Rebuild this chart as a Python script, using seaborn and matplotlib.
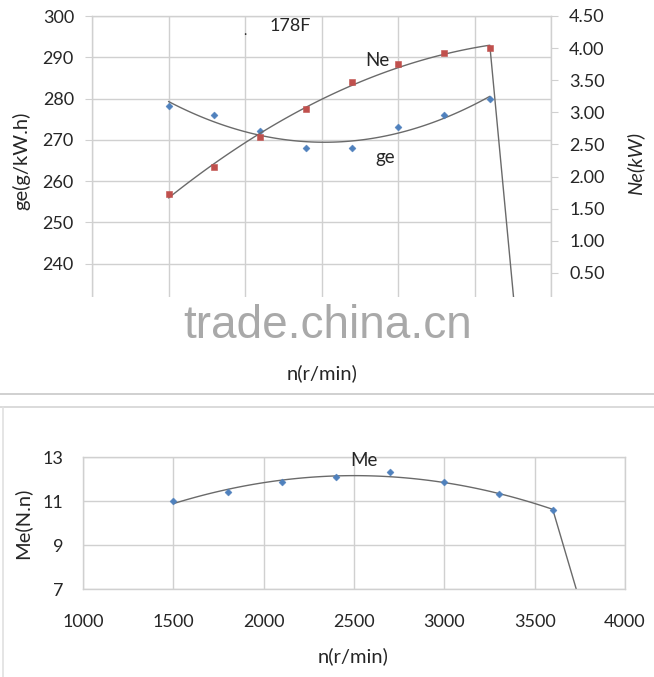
import numpy as np
import matplotlib
matplotlib.use('Agg')
import matplotlib.pyplot as plt
import seaborn as sns
from matplotlib.patches import Rectangle
from matplotlib.lines import Line2D

sns.set_style('white')
plt.rcParams['font.family'] = ['Lato', 'DejaVu Sans']

# engine speed points (r/min)
speed = [1500, 1800, 2100, 2400, 2700, 3000, 3300, 3600]
ge_vals = [278.2, 276.0, 272.2, 268.0, 268.0, 273.0, 276.0, 280.0]
ne_vals = [1.73, 2.15, 2.62, 3.05, 3.47, 3.75, 3.92, 4.00]
me_vals = [11.0, 11.4, 11.85, 12.1, 12.3, 11.85, 11.3, 10.6]
# where the governor cuts the curves off
ne_cut_n, ne_cut_v = 3760, 0.0
me_cut_n, me_cut_v = 3730, 7.0

x_ticks = [1000, 1500, 2000, 2500, 3000, 3500, 4000]
ge_ticks = [230, 240, 250, 260, 270, 280, 290, 300]
ne_ticks = [0.0, 0.5, 1.0, 1.5, 2.0, 2.5, 3.0, 3.5, 4.0, 4.5]
me_ticks = [7, 9, 11, 13]

BLUE = '#4F81BD'
RED = '#C0504D'
LINE = '#6a6a6a'
GRID = '#d0d0d0'
W, H = 654, 677
TITLE_FS = 14.5


def trend(xs, ys, order=2):
    coef = np.polyfit(xs, ys, order)
    xx = np.linspace(min(xs), max(xs), 120)
    return xx, np.polyval(coef, xx)


def px(x, y):
    return x / W, 1 - y / H


def style_axes(ax):
    for s in ax.spines.values():
        s.set_color(GRID)
        s.set_linewidth(1)
    ax.grid(True, color=GRID, lw=1)
    ax.set_axisbelow(True)


fig = plt.figure(figsize=(W / 100, H / 100), dpi=100)

# ---- top chart: ge and Ne ----
ax = fig.add_axes([92 / W, 1 - 305 / H, (551 - 92) / W, (305 - 16) / H])
style_axes(ax)
ax.set_xlim(1000, 4000)
ax.set_ylim(230, 300)
ax.set_xticks(x_ticks)
ax.set_yticks(ge_ticks)
ax.tick_params(axis='y', length=5, color=GRID, pad=8, labelsize=13)
ax.tick_params(axis='x', labelbottom=False, length=0)

gx, gy = trend(speed, ge_vals)
sns.lineplot(x=gx, y=gy, color=LINE, lw=1, ax=ax, sort=False, estimator=None)
sns.scatterplot(x=speed, y=ge_vals, marker='D', s=13, color=BLUE, edgecolor=BLUE, ax=ax, zorder=3)

ax2 = ax.twinx()
ax2.set_ylim(0, 4.5)
ax2.set_yticks(ne_ticks)
ax2.set_yticklabels([f'{v:.2f}' for v in ne_ticks])
ax2.tick_params(axis='y', length=5, color=GRID, pad=8, labelsize=13)
for s in ax2.spines.values():
    s.set_visible(False)
nx, ny = trend(speed, ne_vals)
nx = np.append(nx, ne_cut_n)
ny = np.append(ny, ne_cut_v)
sns.lineplot(x=nx, y=ny, color=LINE, lw=1, ax=ax2, sort=False, estimator=None)
sns.scatterplot(x=speed, y=ne_vals, marker='s', s=24, color=RED, edgecolor=RED, ax=ax2, zorder=3)
ax2.set_xlim(1000, 4000)

fig.text(*px(377, 60), 'Ne', fontsize=13.5, ha='center', va='center')
fig.text(*px(385, 158), 'ge', fontsize=13.5, ha='center', va='center')
fig.text(*px(290, 26), '178F', fontsize=13, ha='center', va='center')
fig.text(*px(245, 31), '.', fontsize=10, ha='center', va='center')
fig.text(*px(21, 161), 'ge(g/kW.h)', fontsize=TITLE_FS, rotation=90, ha='center', va='center')
fig.text(*px(635, 163), 'Ne(kW)', fontsize=TITLE_FS, rotation=90, ha='center', va='center', style='italic')

# washed-out band with the watermark
fig.add_artist(Rectangle(px(0, 362), 1, 65 / H, transform=fig.transFigure,
                         facecolor='white', edgecolor='none', zorder=5))
fig.text(*px(328, 338), 'trade.china.cn', fontsize=33, color='#a9a9a9',
         family='Liberation Sans', ha='center', va='baseline', zorder=6)
fig.text(*px(322, 373), 'n(r/min)', fontsize=TITLE_FS, ha='center', va='center', zorder=6)

# frames between the two charts
fig.add_artist(Line2D([0, 1], [1 - 394 / H] * 2, color='#c8c8c8', lw=1.2))
fig.add_artist(Line2D([0, 1], [1 - 407 / H] * 2, color='#d4d4d4', lw=1.2))
fig.add_artist(Line2D([3 / W] * 2, [0, 1 - 407 / H], color='#e0e0e0', lw=1.2))

# ---- bottom chart: Me ----
bx = fig.add_axes([83 / W, 1 - 589 / H, (625 - 83) / W, (589 - 457) / H])
style_axes(bx)
bx.set_xlim(1000, 4000)
bx.set_ylim(7, 13)
bx.set_xticks(x_ticks)
bx.set_yticks(me_ticks)
bx.tick_params(axis='y', length=5, color=GRID, pad=9, labelsize=13)
bx.tick_params(axis='x', length=3, color=GRID, pad=15, labelsize=13)

mx, my = trend(speed, me_vals)
mx = np.append(mx, me_cut_n)
my = np.append(my, me_cut_v)
sns.lineplot(x=mx, y=my, color=LINE, lw=1, ax=bx, sort=False, estimator=None)
sns.scatterplot(x=speed, y=me_vals, marker='D', s=13, color=BLUE, edgecolor=BLUE, ax=bx, zorder=3)
bx.set_xlabel('')
bx.set_ylabel('')

fig.text(*px(364, 461), 'Me', fontsize=13.5, ha='center', va='center')
fig.text(*px(22, 523), 'Me(N.n)', fontsize=TITLE_FS, rotation=90, ha='center', va='center')
fig.text(*px(353, 656), 'n(r/min)', fontsize=TITLE_FS, ha='center', va='center')

fig.savefig('out.png', dpi=100)
